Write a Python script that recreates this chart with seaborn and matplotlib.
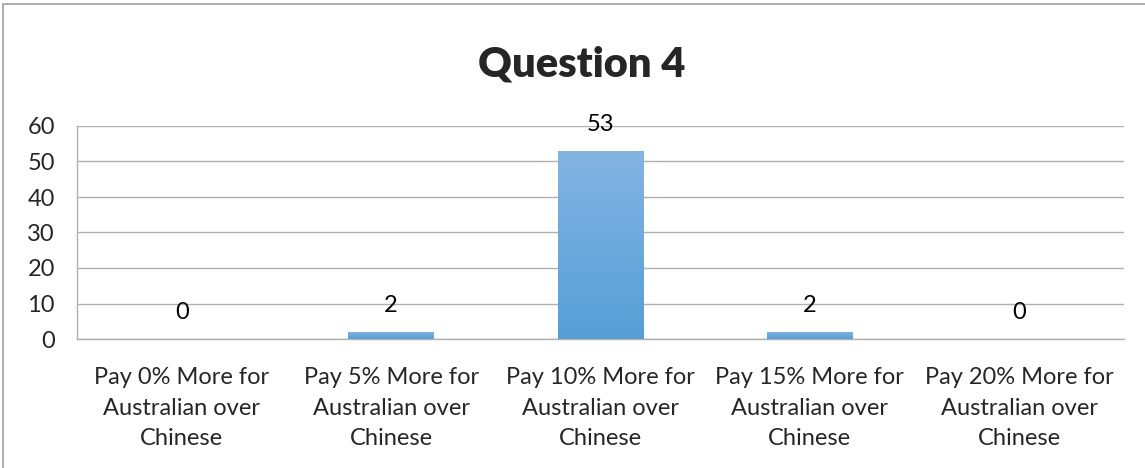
import numpy as np
import pandas as pd
import matplotlib
matplotlib.use('Agg')
import matplotlib.pyplot as plt
import seaborn as sns
from matplotlib.patches import Rectangle

# Data
categories = ['Pay 0% More for\nAustralian over\nChinese',
              'Pay 5% More for\nAustralian over\nChinese',
              'Pay 10% More for\nAustralian over\nChinese',
              'Pay 15% More for\nAustralian over\nChinese',
              'Pay 20% More for\nAustralian over\nChinese']
responses = [0, 2, 53, 2, 0]
y_ticks = [0, 10, 20, 30, 40, 50, 60]

df = pd.DataFrame({'option': categories, 'count': responses})

sns.set_style('white')
plt.rcParams['font.family'] = ['Lato', 'DejaVu Sans']

fig = plt.figure(figsize=(11.45, 4.68), dpi=100)
ax = fig.add_axes([77 / 1145, 1 - 339 / 468, (1124 - 77) / 1145, (339 - 126) / 468])

sns.barplot(data=df, x='option', y='count', color='#6aaae0', width=0.41, ax=ax,
            saturation=1, zorder=3)

# gradient fill on bars
grad = np.linspace(0, 1, 256).reshape(-1, 1)
cmap = matplotlib.colors.LinearSegmentedColormap.from_list('g', ['#559fd6', '#84b4e2'])
for p in ax.patches:
    h = p.get_height()
    if h <= 0:
        p.set_visible(False)
        continue
    x0 = p.get_x()
    w = p.get_width()
    p.set_facecolor('none')
    p.set_edgecolor('none')
    im = ax.imshow(grad, cmap=cmap, origin='lower', aspect='auto',
                   extent=[x0, x0 + w, 0, h], zorder=3)
    im.set_clip_path(p)

# value labels
for i, v in enumerate(responses):
    ax.annotate(str(v), (i, v), xytext=(0, 19), textcoords='offset points',
                ha='center', va='center', fontsize=17, color='black')

ax.set_xlim(-0.5, len(categories) - 0.5)
ax.set_ylim(0, 60)
ax.set_yticks(y_ticks)
ax.set_yticklabels([str(t) for t in y_ticks], fontsize=17)
ax.set_xticks(range(len(categories)))
ax.set_xticklabels(categories, fontsize=17, linespacing=1.58)
ax.set_xlabel('')
ax.set_ylabel('')
ax.set_xticks(np.arange(-0.5, len(categories), 1), minor=True)
ax.tick_params(axis='x', which='major', length=0, pad=20)
ax.tick_params(axis='x', which='minor', length=6, color='#b0b0b0', width=1, direction='out')
ax.tick_params(axis='y', length=6, color='#b0b0b0', width=1, direction='out', pad=10)

ax.grid(axis='y', color='#b0b0b0', linewidth=1, zorder=0)
ax.set_axisbelow(True)
for s in ['top', 'right']:
    ax.spines[s].set_visible(False)
for s in ['left', 'bottom']:
    ax.spines[s].set_color('#b0b0b0')
    ax.spines[s].set_linewidth(1)

fig.text(582 / 1145, 1 - 65 / 468, 'Question 4', ha='center', va='center',
         fontsize=30, fontweight='heavy')

# outer chart frame
fig.patches.append(Rectangle((3 / 1145, -0.1), 1.2, 1 - 4 / 468 + 0.1,
                             transform=fig.transFigure, fill=False,
                             edgecolor='#a0a0a0', linewidth=1.2))

fig.savefig('out.png', dpi=100)
